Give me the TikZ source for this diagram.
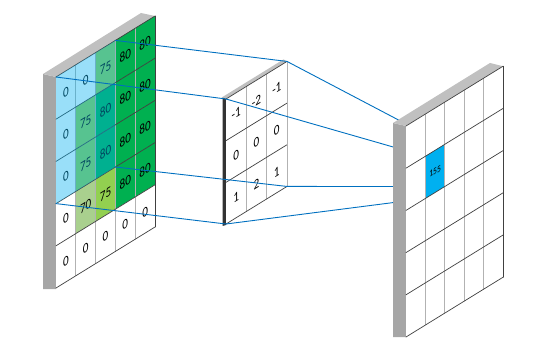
\documentclass[tikz,border=0pt]{standalone}
\usepackage{fontspec}
\setmainfont{Carlito}

\definecolor{v80}{HTML}{00B050}
\definecolor{v75}{HTML}{92D050}
\definecolor{v70}{HTML}{A9D08E}
\colorlet{v0}{white}
\definecolor{sky}{HTML}{00B0F0}
\definecolor{linkblue}{HTML}{0070C0}
\definecolor{sidegray}{HTML}{A6A6A6}
\definecolor{topgray}{HTML}{C0C0C0}
\definecolor{edgegray}{HTML}{404040}

\begin{document}
\begin{tikzpicture}[x=1pt,y=1pt,line cap=round,line join=round,
  link/.style={linkblue,line width=0.9pt},
  rowline/.style={edgegray,line width=0.7pt},
  colline/.style={black!30,line width=0.7pt},
  num/.style={font=\fontsize{14}{14}\selectfont,xscale=0.8,inner sep=0pt,transform shape},
  ingrid/.style={shift={(56,271)},yslant=0.616},
  kergrid/.style={shift={(226,249)},yslant=0.616},
  outgrid/.style={shift={(406,222)},yslant=0.616}]

  \useasboundingbox (0,0) rectangle (543,348);

  % input map
  \fill[sidegray] (43,274) -- (56,271) -- (56,59) -- (43,59) -- cycle;
  \fill[topgray] (43,274) -- (56,271) -- (155,332) -- (141,335) -- cycle;
  \begin{scope}[ingrid]
    \def\cw{19.8} \def\rh{42.2}
    \foreach \ry/\vals in {0/{0,0,75,80,80},1/{0,75,80,80,80},2/{0,75,80,80,80},
                           3/{0,70,75,80,80},4/{0,0,0,0,0}}
      \foreach \v [count=\cx from 0] in \vals {
        \fill[v\v] (\cx*\cw,-\ry*\rh) rectangle ++(\cw,-\rh);
        \node[num] (in-\cx-\ry) at ({(\cx+0.5)*\cw},{-(\ry+0.5)*\rh}) {\v};
      }
    \foreach \cx in {1,...,4}
      \draw[colline] (\cx*\cw,0) -- (\cx*\cw,-5*\rh);
    \foreach \ry in {0,...,5}
      \draw[rowline] (0,-\ry*\rh) -- (5*\cw,-\ry*\rh);
    \draw[rowline] (5*\cw,0) -- (5*\cw,-5*\rh);
    \fill[sky,opacity=0.4] (0,0) rectangle (3*\cw,-3*\rh);
    \coordinate (in-a) at (0,0);
    \coordinate (in-b) at (3*\cw,0);
    \coordinate (in-c) at (3*\cw,-3*\rh);
    \coordinate (in-d) at (0,-3*\rh);
  \end{scope}

  % kernel
  \fill[black!80] (222.5,251) -- (226,249) -- (226,123) -- (222.5,122) -- cycle;
  \fill[topgray] (222.5,251) -- (226,249) -- (287,286.6) -- (283.5,288.6) -- cycle;
  \begin{scope}[kergrid]
    \def\cw{20.33} \def\rh{41.67}
    \fill[white] (0,0) rectangle (3*\cw,-3*\rh);
    \foreach \ry/\vals in {0/{-1,-2,-1},1/{0,0,0},2/{1,2,1}}
      \foreach \v [count=\cx from 0] in \vals
        \node[num] (ker-\cx-\ry) at ({(\cx+0.5)*\cw},{-(\ry+0.5)*\rh}) {\v};
    \foreach \cx in {1,2}
      \draw[colline] (\cx*\cw,0) -- (\cx*\cw,-3*\rh);
    \foreach \ry in {0,...,3}
      \draw[rowline] (0,-\ry*\rh) -- (3*\cw,-\ry*\rh);
    \draw[colline] (3*\cw,0) -- (3*\cw,-3*\rh);
    \coordinate (ker-a) at (0,0);
    \coordinate (ker-b) at (3*\cw,0);
    \coordinate (ker-c) at (3*\cw,-3*\rh);
    \coordinate (ker-d) at (0,-3*\rh);
  \end{scope}

  % corners of the output cell
  \begin{scope}[outgrid]
    \def\cw{19.4} \def\rh{42.2}
    \coordinate (out-a) at (\cw,-\rh);
    \coordinate (out-b) at (2*\cw,-\rh);
    \coordinate (out-c) at (2*\cw,-2*\rh);
    \coordinate (out-d) at (\cw,-2*\rh);
  \end{scope}

  % receptive field links
  \draw[link] (in-a) -- (ker-a);
  \draw[link] (in-b) -- (ker-b);
  \draw[link] (in-c) -- (ker-c);
  \draw[link] (in-d) -- (ker-d);
  \draw[link] (ker-a) -- (out-a);
  \draw[link] (ker-b) -- (out-b);
  \draw[link] (ker-c) -- (out-c);
  \draw[link] (ker-d) -- (out-d);

  % output map
  \fill[sidegray] (393,225) -- (406,222) -- (406,11) -- (393,11) -- cycle;
  \fill[topgray] (393,225) -- (406,222) -- (503,281.8) -- (490,285) -- cycle;
  \begin{scope}[outgrid]
    \def\cw{19.4} \def\rh{42.2}
    \fill[white] (0,0) rectangle (5*\cw,-5*\rh);
    \fill[sky] (out-a) -- (out-b) -- (out-c) -- (out-d) -- cycle;
    \node[num,font=\fontsize{9.5}{9.5}\selectfont] (out-val) at (1.5*\cw,-1.5*\rh) {155};
    \foreach \cx in {1,...,4}
      \draw[colline] (\cx*\cw,0) -- (\cx*\cw,-5*\rh);
    \foreach \ry in {0,...,5}
      \draw[rowline] (0,-\ry*\rh) -- (5*\cw,-\ry*\rh);
    \draw[rowline] (5*\cw,0) -- (5*\cw,-5*\rh);
  \end{scope}
\end{tikzpicture}
\end{document}
